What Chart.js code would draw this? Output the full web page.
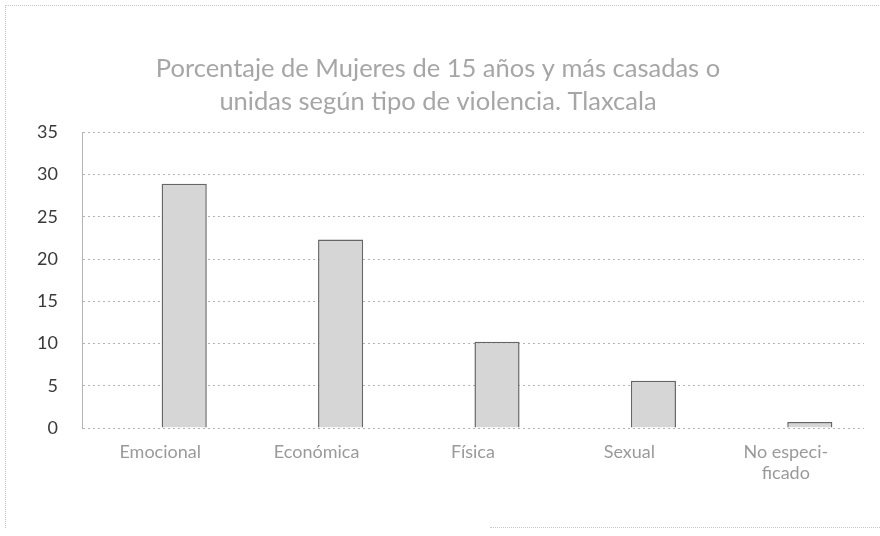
<!DOCTYPE html>
<html>
<head>
<meta charset="utf-8">
<script src="https://cdn.jsdelivr.net/npm/chart.js@4"></script>
<style>
  html, body { margin: 0; padding: 0; background: #fff; }
  #wrap { position: relative; width: 880px; height: 536px; }
  #frame {
    position: absolute; left: 5px; top: 5px; width: 875px; height: 522px;
    border-left: 1px dotted #bdbdbd; border-top: 1px dotted #c8c8c8;
  }
  #frame-bottom {
    position: absolute; left: 490px; top: 527px; width: 390px;
    border-top: 1px dotted #c8c8c8;
  }
  canvas { position: absolute; left: 0; top: 0; }
</style>
</head>
<body>
<div id="wrap">
  <div id="frame"></div>
  <div id="frame-bottom"></div>
  <canvas id="chart" width="880" height="536"></canvas>
</div>
<script>
const FONT = "Lato, 'Open Sans', 'Noto Sans', sans-serif";

const TITLE_LINES = [
  "Porcentaje de Mujeres de 15 años y más casadas o",
  "unidas según tipo de violencia. Tlaxcala",
];
const CATEGORIES = ["Emocional", "Económica", "Física", "Sexual", ["No especi-", "ficado"]];
const VALUES = [28.9, 22.3, 10.2, 5.6, 0.7];
// empty spacer series: the scanned bars sit a little right of their category centre
const SPACER = [null, null, null, null, null];
const Y_MIN = 0;
const Y_MAX = 35;
const Y_STEP = 5;

const COLOR_BAR = "#d6d6d6";
const COLOR_BAR_EDGE = "#666666";
const COLOR_GRID = "#b4b4b4";
const COLOR_TITLE = "#a6a6a6";
const COLOR_XLABEL = "#9a9a9a";
const COLOR_YLABEL = "#3a3a3a";

Chart.defaults.font.family = FONT;

new Chart(document.getElementById("chart"), {
  type: "bar",
  data: {
    labels: CATEGORIES,
    datasets: [
      {
        data: SPACER,
        backgroundColor: "rgba(0,0,0,0)",
        categoryPercentage: 0.614,
        barPercentage: 0.94,
      },
      {
        data: VALUES,
        backgroundColor: COLOR_BAR,
        borderColor: COLOR_BAR_EDGE,
        borderWidth: 1.5,
        categoryPercentage: 0.614,
        barPercentage: 0.94,
      },
    ],
  },
  options: {
    responsive: false,
    animation: false,
    layout: { padding: { left: 12, right: 16, top: 0, bottom: 6 } },
    scales: {
      x: {
        grid: { display: false, drawTicks: false },
        border: { display: false },
        ticks: { color: COLOR_XLABEL, font: { size: 18 }, padding: 13, maxRotation: 0, autoSkip: false },
        afterFit: (s) => { s.height = 102; },
      },
      y: {
        min: Y_MIN,
        max: Y_MAX,
        grid: { color: COLOR_GRID, drawTicks: false, lineWidth: 1 },
        border: { display: true, color: COLOR_GRID, dash: [2, 3] },
        ticks: { stepSize: Y_STEP, color: COLOR_YLABEL, font: { size: 18 }, padding: 24 },
        afterFit: (s) => { s.width = 70; },
      },
    },
    plugins: {
      legend: { display: false },
      tooltip: { enabled: false },
      title: {
        display: true,
        text: TITLE_LINES,
        color: COLOR_TITLE,
        font: { size: 25.5, weight: "normal", lineHeight: 1.3 },
        padding: { top: 52, bottom: 14 },
      },
    },
  },
  plugins: [
    {
      id: "dashGrid",
      beforeDraw(chart) {
        chart.scales.y.options.grid.borderDash = [2, 3];
      },
    },
  ],
});
</script>
</body>
</html>
